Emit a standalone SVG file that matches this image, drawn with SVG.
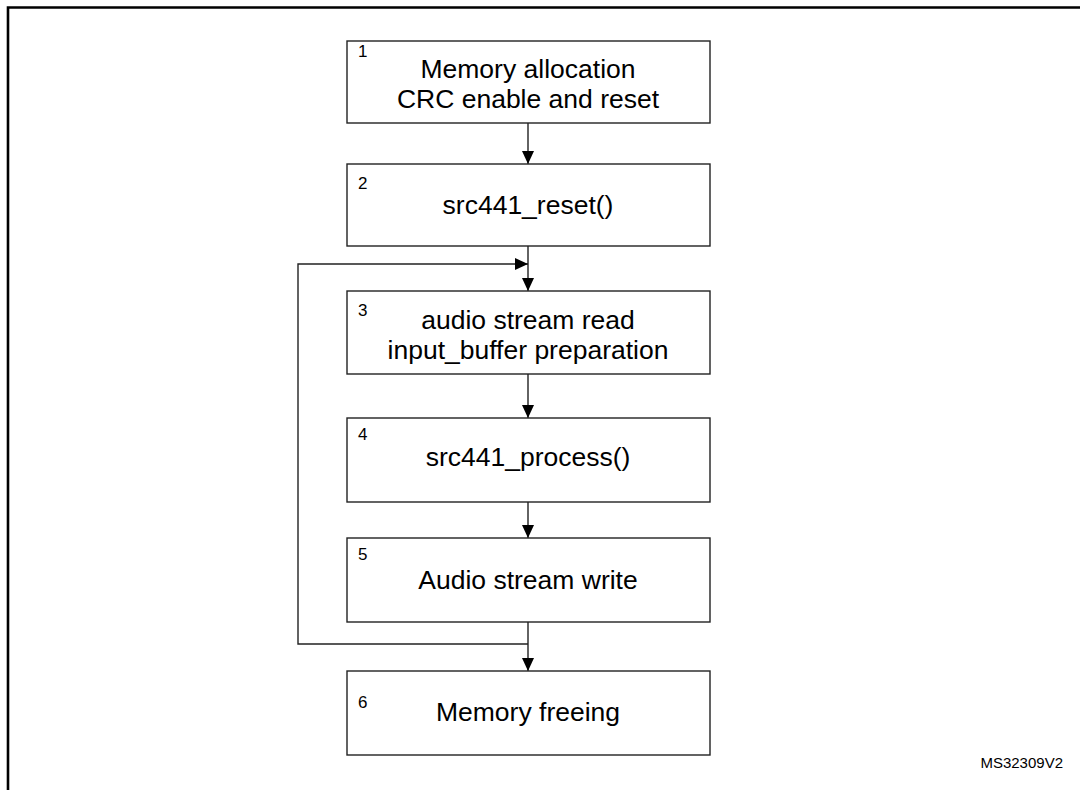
<svg xmlns="http://www.w3.org/2000/svg" width="1080" height="790" viewBox="0 0 1080 790">
<style>
.box{fill:#fff;stroke:#222;stroke-width:1.4}
.lbl{font-family:"Liberation Sans",Arial,sans-serif;font-size:26.5px;fill:#000;text-anchor:middle}
.num{font-family:"Liberation Sans",Arial,sans-serif;font-size:17px;fill:#000}
.ln{fill:none;stroke:#222;stroke-width:1.4}
.frame{fill:none;stroke:#000;stroke-width:2.6}
.tag{font-family:"Liberation Sans",Arial,sans-serif;font-size:15px;fill:#000;text-anchor:end}
</style>
<defs>
<marker id="ah" viewBox="0 0 13 12" refX="13" refY="6" markerWidth="13" markerHeight="12" markerUnits="userSpaceOnUse" orient="auto">
<path d="M0,0 L13,6 L0,12 Z" fill="#000"/>
</marker>
</defs>
<rect width="1080" height="790" fill="#fff"/>
<path class="frame" d="M8,790 V7.5 H1080"/>
<g id="connectors">
<line class="ln" x1="528" y1="123" x2="528" y2="164" marker-end="url(#ah)"/>
<line class="ln" x1="528" y1="246" x2="528" y2="291" marker-end="url(#ah)"/>
<polyline class="ln" points="528,644 298,644 298,264 528,264" marker-end="url(#ah)"/>
<line class="ln" x1="528" y1="374" x2="528" y2="418" marker-end="url(#ah)"/>
<line class="ln" x1="528" y1="502" x2="528" y2="538" marker-end="url(#ah)"/>
<line class="ln" x1="528" y1="622" x2="528" y2="671" marker-end="url(#ah)"/>
</g>
<g id="node1">
<rect class="box" x="347" y="41" width="363" height="82"/>
<text class="num" x="358" y="57">1</text>
<text class="lbl" x="528" y="78">Memory allocation</text>
<text class="lbl" x="528" y="108">CRC enable and reset</text>
</g>
<g id="node2">
<rect class="box" x="347" y="164" width="363" height="82"/>
<text class="num" x="358" y="189">2</text>
<text class="lbl" x="528" y="214">src441_reset()</text>
</g>
<g id="node3">
<rect class="box" x="347" y="291" width="363" height="83"/>
<text class="num" x="358" y="316">3</text>
<text class="lbl" x="528" y="329">audio stream read</text>
<text class="lbl" x="528" y="359">input_buffer preparation</text>
</g>
<g id="node4">
<rect class="box" x="347" y="418" width="363" height="84"/>
<text class="num" x="358" y="440">4</text>
<text class="lbl" x="528" y="466">src441_process()</text>
</g>
<g id="node5">
<rect class="box" x="347" y="538" width="363" height="84"/>
<text class="num" x="358" y="560">5</text>
<text class="lbl" x="528" y="589">Audio stream write</text>
</g>
<g id="node6">
<rect class="box" x="347" y="671" width="363" height="84"/>
<text class="num" x="358" y="708">6</text>
<text class="lbl" x="528" y="721">Memory freeing</text>
</g>
<text class="tag" x="1063" y="768">MS32309V2</text>
</svg>
